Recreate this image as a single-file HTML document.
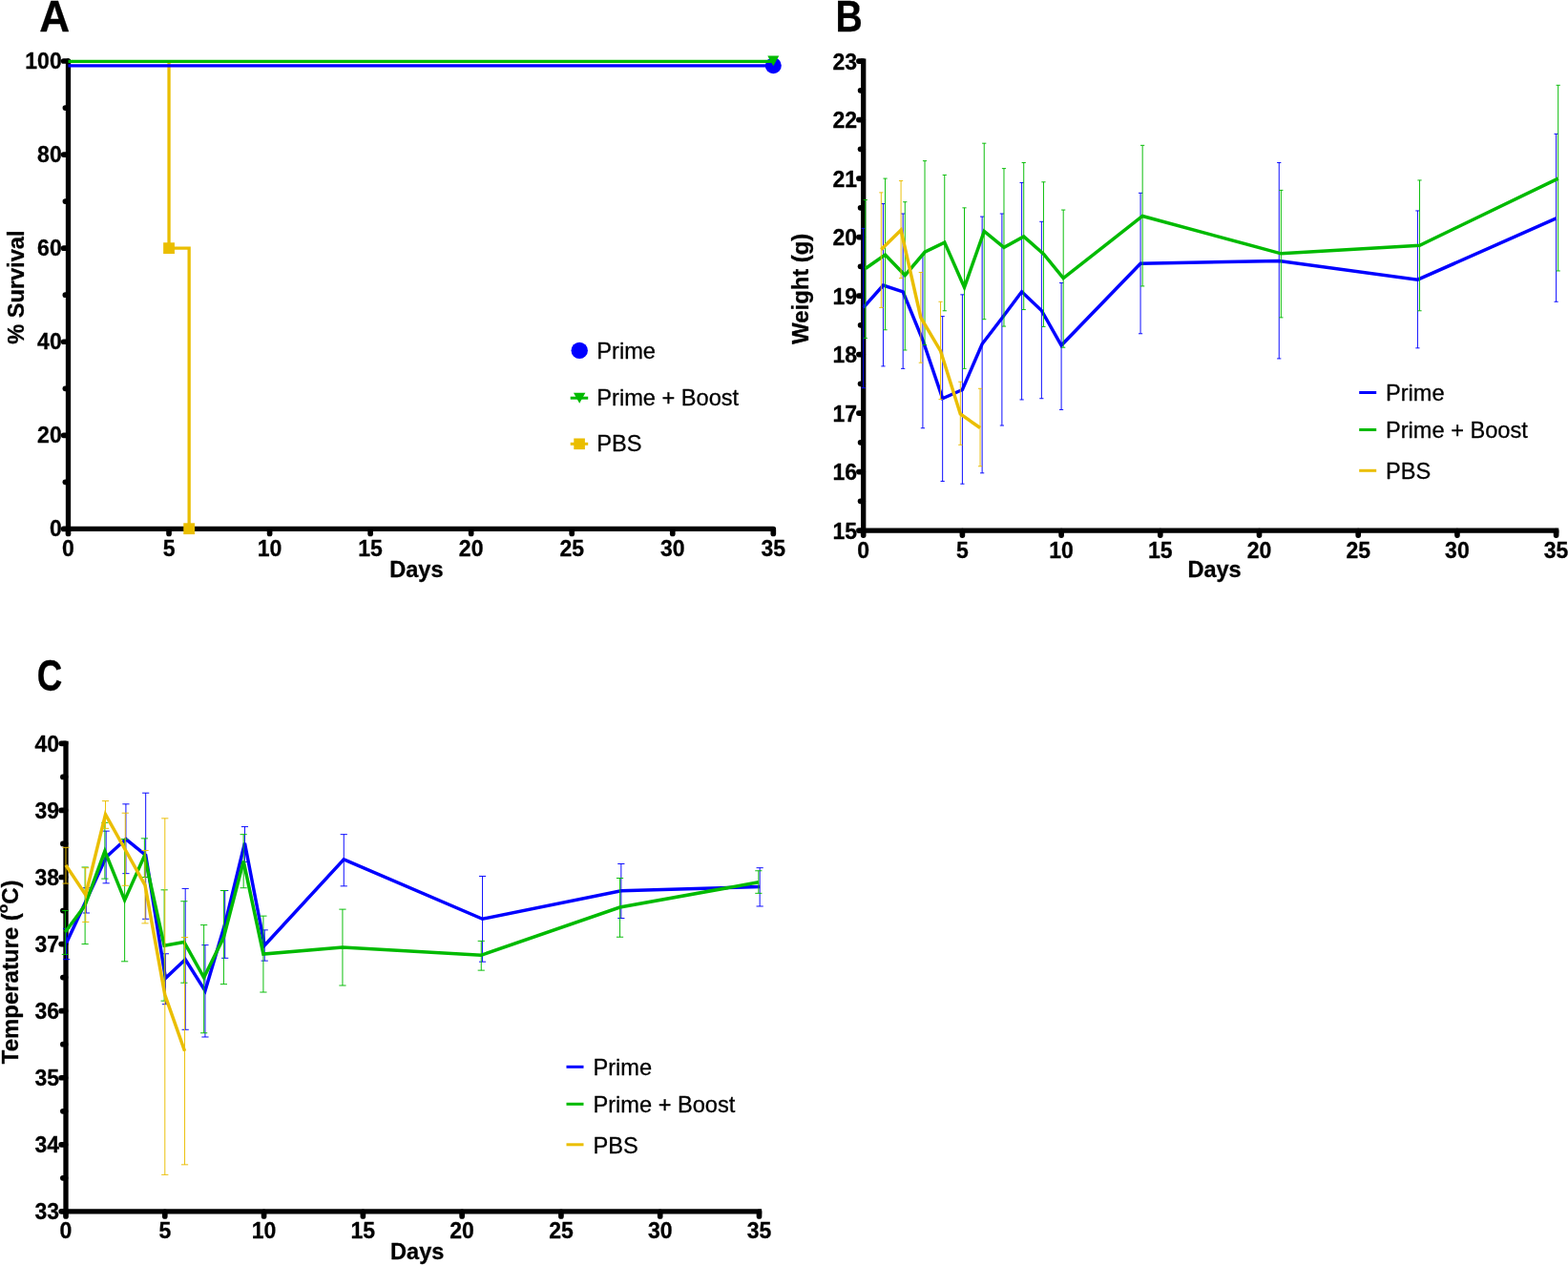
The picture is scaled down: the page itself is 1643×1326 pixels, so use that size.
<!DOCTYPE html>
<html lang="en"><head><meta charset="utf-8"><title>Survival, weight and temperature after challenge</title>
<style>html,body{margin:0;padding:0;background:#fff}body{width:1643px;height:1326px;overflow:hidden}svg{display:block}text{font-family:"Liberation Sans",Arial,Helvetica,sans-serif;fill:#000;stroke:#000;stroke-width:0.3px;stroke-linejoin:round}</style>
</head><body>
<svg width="1643" height="1326" viewBox="0 0 1643 1326" role="img" aria-label="Survival, weight and temperature charts">
<rect width="1643" height="1326" fill="#fff"/>
<text transform="translate(41.2 33.3) scale(0.943 1)" font-size="46.8" font-weight="bold" stroke="none">A</text>
<text transform="translate(875.6 33.2) scale(0.836 1)" font-size="46.8" font-weight="bold" stroke="none">B</text>
<text transform="translate(38.8 724.2) scale(0.78 1)" font-size="47.1" font-weight="bold" stroke="none">C</text>
<g stroke="#000" fill="none">
<path d="M71.5 64.0V554.4H810.3" stroke-width="5.3" stroke-linecap="round" stroke-linejoin="round"/>
<g stroke-width="5.7" stroke-linecap="round">
<path d="M71.0 554.4 h-4.3"/>
<path d="M71.0 456.32 h-4.3"/>
<path d="M71.0 358.24 h-4.3"/>
<path d="M71.0 260.16 h-4.3"/>
<path d="M71.0 162.08 h-4.3"/>
<path d="M71.0 64.0 h-4.3"/>
<path d="M71.0 505.36 h-2.6"/>
<path d="M71.0 407.28 h-2.6"/>
<path d="M71.0 309.2 h-2.6"/>
<path d="M71.0 211.12 h-2.6"/>
<path d="M71.0 113.04 h-2.6"/>
<path d="M71.5 554.9 v4.5"/>
<path d="M177.04 554.9 v4.5"/>
<path d="M282.59 554.9 v4.5"/>
<path d="M388.13 554.9 v4.5"/>
<path d="M493.67 554.9 v4.5"/>
<path d="M599.21 554.9 v4.5"/>
<path d="M704.76 554.9 v4.5"/>
<path d="M810.3 554.9 v4.5"/>
</g></g>
<text x="64.7" y="562.0" font-size="23" font-weight="bold" text-anchor="end">0</text>
<text x="64.7" y="463.92" font-size="23" font-weight="bold" text-anchor="end">20</text>
<text x="64.7" y="365.84" font-size="23" font-weight="bold" text-anchor="end">40</text>
<text x="64.7" y="267.76" font-size="23" font-weight="bold" text-anchor="end">60</text>
<text x="64.7" y="169.68" font-size="23" font-weight="bold" text-anchor="end">80</text>
<text x="64.7" y="71.6" font-size="23" font-weight="bold" text-anchor="end">100</text>
<text x="71.5" y="583" font-size="23" font-weight="bold" text-anchor="middle">0</text>
<text x="177.04" y="583" font-size="23" font-weight="bold" text-anchor="middle">5</text>
<text x="282.59" y="583" font-size="23" font-weight="bold" text-anchor="middle">10</text>
<text x="388.13" y="583" font-size="23" font-weight="bold" text-anchor="middle">15</text>
<text x="493.67" y="583" font-size="23" font-weight="bold" text-anchor="middle">20</text>
<text x="599.21" y="583" font-size="23" font-weight="bold" text-anchor="middle">25</text>
<text x="704.76" y="583" font-size="23" font-weight="bold" text-anchor="middle">30</text>
<text x="810.3" y="583" font-size="23" font-weight="bold" text-anchor="middle">35</text>
<text transform="translate(436.4 605.0) scale(1.023 1)" font-size="23" font-weight="bold" text-anchor="middle">Days</text>
<text transform="translate(24.7 301.2) rotate(-90) scale(1.026 1)" font-size="23" font-weight="bold" text-anchor="middle" stroke="none">% Survival</text>
<g fill="none" stroke-width="3.3" stroke="#eabe00"><path d="M177.04 66.0V260.16H198.15V554.4"/></g>
<rect x="171.14" y="254.26" width="11.8" height="11.8" fill="#eabe00"/>
<rect x="192.25" y="548.3" width="11.8" height="11.8" fill="#eabe00"/>
<path d="M71.5 68.8H810.3" stroke="#0000ff" stroke-width="3.2" fill="none"/>
<circle cx="810.3" cy="68.7" r="8.5" fill="#0000ff"/>
<path d="M71.5 64.4H810.3" stroke="#00ba00" stroke-width="3.2" fill="none"/>
<path d="M804.3 58.5h12l-6 10.7z" fill="#00ba00"/>
<circle cx="607.2" cy="367.4" r="8.7" fill="#0000ff"/>
<path d="M597.7 417.2h18.5" stroke="#00ba00" stroke-width="3" fill="none"/><path d="M601 411.8h12.4l-6.2 11z" fill="#00ba00"/>
<path d="M597.7 465.3h18.5" stroke="#eabe00" stroke-width="3" fill="none"/><rect x="601.3" y="459.5" width="11.6" height="11.6" fill="#eabe00"/>
<text x="625.3" y="375.9" font-size="23.6" font-weight="normal" text-anchor="start">Prime</text>
<text x="625.3" y="425.1" font-size="23.6" font-weight="normal" text-anchor="start">Prime + Boost</text>
<text x="625.3" y="473.3" font-size="23.6" font-weight="normal" text-anchor="start">PBS</text>
<g stroke="#000" fill="none">
<path d="M904.7 64.1V556.1H1630.6" stroke-width="5.3" stroke-linecap="square" stroke-linejoin="round"/>
<g stroke-width="5.7" stroke-linecap="round">
<path d="M904.2 556.1 h-4.3"/>
<path d="M904.2 494.6 h-4.3"/>
<path d="M904.2 433.1 h-4.3"/>
<path d="M904.2 371.6 h-4.3"/>
<path d="M904.2 310.1 h-4.3"/>
<path d="M904.2 248.6 h-4.3"/>
<path d="M904.2 187.1 h-4.3"/>
<path d="M904.2 125.6 h-4.3"/>
<path d="M904.2 64.1 h-4.3"/>
<path d="M904.2 525.35 h-2.6"/>
<path d="M904.2 463.85 h-2.6"/>
<path d="M904.2 402.35 h-2.6"/>
<path d="M904.2 340.85 h-2.6"/>
<path d="M904.2 279.35 h-2.6"/>
<path d="M904.2 217.85 h-2.6"/>
<path d="M904.2 156.35 h-2.6"/>
<path d="M904.2 94.85 h-2.6"/>
<path d="M904.7 556.6 v4.5"/>
<path d="M1008.4 556.6 v4.5"/>
<path d="M1112.1 556.6 v4.5"/>
<path d="M1215.8 556.6 v4.5"/>
<path d="M1319.5 556.6 v4.5"/>
<path d="M1423.2 556.6 v4.5"/>
<path d="M1526.9 556.6 v4.5"/>
<path d="M1630.6 556.6 v4.5"/>
</g></g>
<text x="898.1" y="564.8" font-size="23" font-weight="bold" text-anchor="end">15</text>
<text x="898.1" y="503.3" font-size="23" font-weight="bold" text-anchor="end">16</text>
<text x="898.1" y="441.8" font-size="23" font-weight="bold" text-anchor="end">17</text>
<text x="898.1" y="380.3" font-size="23" font-weight="bold" text-anchor="end">18</text>
<text x="898.1" y="318.8" font-size="23" font-weight="bold" text-anchor="end">19</text>
<text x="898.1" y="257.3" font-size="23" font-weight="bold" text-anchor="end">20</text>
<text x="898.1" y="195.8" font-size="23" font-weight="bold" text-anchor="end">21</text>
<text x="898.1" y="134.3" font-size="23" font-weight="bold" text-anchor="end">22</text>
<text x="898.1" y="72.8" font-size="23" font-weight="bold" text-anchor="end">23</text>
<text x="904.7" y="584.5" font-size="23" font-weight="bold" text-anchor="middle">0</text>
<text x="1008.4" y="584.5" font-size="23" font-weight="bold" text-anchor="middle">5</text>
<text x="1112.1" y="584.5" font-size="23" font-weight="bold" text-anchor="middle">10</text>
<text x="1215.8" y="584.5" font-size="23" font-weight="bold" text-anchor="middle">15</text>
<text x="1319.5" y="584.5" font-size="23" font-weight="bold" text-anchor="middle">20</text>
<text x="1423.2" y="584.5" font-size="23" font-weight="bold" text-anchor="middle">25</text>
<text x="1526.9" y="584.5" font-size="23" font-weight="bold" text-anchor="middle">30</text>
<text x="1630.6" y="584.5" font-size="23" font-weight="bold" text-anchor="middle">35</text>
<text transform="translate(1272.6 605.3) scale(1.023 1)" font-size="23" font-weight="bold" text-anchor="middle">Days</text>
<text transform="translate(847 302.7) rotate(-90) scale(1.036 1)" font-size="23" font-weight="bold" text-anchor="middle" stroke="none">Weight (g)</text>
<g stroke="#0000ff" fill="none">
<path d="M904.7 239.38V406.66M902.6 239.38h4.2M902.6 406.66h4.2M925.44 213.55V383.9M923.34 213.55h4.2M923.34 383.9h4.2M946.18 224.0V386.36M944.08 224.0h4.2M944.08 386.36h4.2M966.92 267.05V448.78M964.82 267.05h4.2M964.82 448.78h4.2M987.66 331.63V504.44M985.56 331.63h4.2M985.56 504.44h4.2M1008.4 308.87V507.21M1006.3 308.87h4.2M1006.3 507.21h4.2M1029.14 227.07V495.83M1027.04 227.07h4.2M1027.04 495.83h4.2M1049.88 224.0V446.02M1047.78 224.0h4.2M1047.78 446.02h4.2M1070.62 191.41V418.95M1068.52 191.41h4.2M1068.52 418.95h4.2M1091.36 232.3V417.73M1089.26 232.3h4.2M1089.26 417.73h4.2M1112.1 296.57V429.41M1110.0 296.57h4.2M1110.0 429.41h4.2M1195.06 202.29V349.77M1192.96 202.29h4.2M1192.96 349.77h4.2M1340.24 170.5V375.91M1338.14 170.5h4.2M1338.14 375.91h4.2M1485.42 220.93V364.84M1483.32 220.93h4.2M1483.32 364.84h4.2M1630.6 140.36V316.25M1628.5 140.36h4.2M1628.5 316.25h4.2" stroke-width="1.0" stroke-opacity="0.95"/>
<path d="M904.7 322.4 L925.44 299.03 L946.18 305.8 L966.92 356.53 L987.66 417.73 L1008.4 408.5 L1029.14 360.53 L1049.88 333.47 L1070.62 305.8 L1091.36 325.48 L1112.1 362.07 L1195.06 276.27 L1340.24 273.51 L1485.42 293.19 L1630.6 228.92" stroke-width="3.5" stroke-linejoin="miter" stroke-linecap="butt"/>
</g>
<g stroke="#00ba00" fill="none">
<path d="M906.8 209.49V354.38M904.7 209.49h4.2M904.7 354.38h4.2M927.54 187.1V345.77M925.44 187.1h4.2M925.44 345.77h4.2M948.28 211.7V366.99M946.18 211.7h4.2M946.18 366.99h4.2M969.02 168.65V361.45M966.92 168.65h4.2M966.92 361.45h4.2M989.76 183.41V325.78M987.66 183.41h4.2M987.66 325.78h4.2M1010.5 217.85V386.36M1008.4 217.85h4.2M1008.4 386.36h4.2M1031.24 150.2V334.7M1029.14 150.2h4.2M1029.14 334.7h4.2M1051.98 176.64V342.08M1049.88 176.64h4.2M1049.88 342.08h4.2M1072.72 170.5V324.55M1070.62 170.5h4.2M1070.62 324.55h4.2M1093.46 190.79V342.39M1091.36 190.79h4.2M1091.36 342.39h4.2M1114.2 220.06V364.22M1112.1 220.06h4.2M1112.1 364.22h4.2M1197.16 152.35V299.95M1195.06 152.35h4.2M1195.06 299.95h4.2M1342.34 199.4V332.86M1340.24 199.4h4.2M1340.24 332.86h4.2M1487.52 188.95V325.78M1485.42 188.95h4.2M1485.42 325.78h4.2M1632.7 89.32V283.96M1630.6 89.32h4.2M1630.6 283.96h4.2" stroke-width="1.0" stroke-opacity="0.95"/>
<path d="M906.8 281.5 L927.54 267.05 L948.28 288.57 L969.02 264.28 L989.76 254.13 L1010.5 301.18 L1031.24 242.45 L1051.98 259.36 L1072.72 247.98 L1093.46 266.13 L1114.2 291.65 L1197.16 226.46 L1342.34 265.82 L1487.52 257.21 L1632.7 187.1" stroke-width="3.5" stroke-linejoin="miter" stroke-linecap="butt"/>
</g>
<g stroke="#eabe00" fill="none">
<path d="M923.34 201.86V322.4M921.24 201.86h4.2M921.24 322.4h4.2M944.08 189.56V291.65M941.98 189.56h4.2M941.98 291.65h4.2M964.82 285.5V380.21M962.72 285.5h4.2M962.72 380.21h4.2M985.56 316.25V418.65M983.46 316.25h4.2M983.46 418.65h4.2M1006.3 400.2V466.31M1004.2 400.2h4.2M1004.2 466.31h4.2M1027.04 407.27V488.76M1024.94 407.27h4.2M1024.94 488.76h4.2" stroke-width="1.0" stroke-opacity="0.95"/>
<path d="M923.34 261.52 L944.08 241.22 L964.82 332.86 L985.56 367.91 L1006.3 434.02 L1027.04 448.48" stroke-width="3.5" stroke-linejoin="miter" stroke-linecap="butt"/>
</g>
<path d="M1424.2 411.5H1442.2" stroke="#0000ff" stroke-width="3" fill="none"/>
<text x="1452.0" y="420" font-size="23.6" font-weight="normal" text-anchor="start">Prime</text>
<path d="M1424.2 450.5H1442.2" stroke="#00ba00" stroke-width="3" fill="none"/>
<text x="1452.0" y="459.2" font-size="23.6" font-weight="normal" text-anchor="start">Prime + Boost</text>
<path d="M1424.2 493.3H1442.2" stroke="#eabe00" stroke-width="3" fill="none"/>
<text x="1452.0" y="501.8" font-size="23.6" font-weight="normal" text-anchor="start">PBS</text>
<g stroke="#000" fill="none">
<path d="M69.0 779.35V1269.9H795.5" stroke-width="5.3" stroke-linecap="square" stroke-linejoin="round"/>
<g stroke-width="5.7" stroke-linecap="round">
<path d="M68.5 1269.9 h-4.3"/>
<path d="M68.5 1199.82 h-4.3"/>
<path d="M68.5 1129.74 h-4.3"/>
<path d="M68.5 1059.66 h-4.3"/>
<path d="M68.5 989.59 h-4.3"/>
<path d="M68.5 919.51 h-4.3"/>
<path d="M68.5 849.43 h-4.3"/>
<path d="M68.5 779.35 h-4.3"/>
<path d="M68.5 1234.86 h-2.6"/>
<path d="M68.5 1164.78 h-2.6"/>
<path d="M68.5 1094.7 h-2.6"/>
<path d="M68.5 1024.62 h-2.6"/>
<path d="M68.5 954.55 h-2.6"/>
<path d="M68.5 884.47 h-2.6"/>
<path d="M68.5 814.39 h-2.6"/>
<path d="M69.0 1270.4 v4.5"/>
<path d="M172.79 1270.4 v4.5"/>
<path d="M276.57 1270.4 v4.5"/>
<path d="M380.36 1270.4 v4.5"/>
<path d="M484.14 1270.4 v4.5"/>
<path d="M587.93 1270.4 v4.5"/>
<path d="M691.71 1270.4 v4.5"/>
<path d="M795.5 1270.4 v4.5"/>
</g></g>
<text x="62.0" y="1278.3" font-size="23" font-weight="bold" text-anchor="end">33</text>
<text x="62.0" y="1208.22" font-size="23" font-weight="bold" text-anchor="end">34</text>
<text x="62.0" y="1138.14" font-size="23" font-weight="bold" text-anchor="end">35</text>
<text x="62.0" y="1068.06" font-size="23" font-weight="bold" text-anchor="end">36</text>
<text x="62.0" y="997.99" font-size="23" font-weight="bold" text-anchor="end">37</text>
<text x="62.0" y="927.91" font-size="23" font-weight="bold" text-anchor="end">38</text>
<text x="62.0" y="857.83" font-size="23" font-weight="bold" text-anchor="end">39</text>
<text x="62.0" y="787.75" font-size="23" font-weight="bold" text-anchor="end">40</text>
<text x="69.0" y="1298.2" font-size="23" font-weight="bold" text-anchor="middle">0</text>
<text x="172.79" y="1298.2" font-size="23" font-weight="bold" text-anchor="middle">5</text>
<text x="276.57" y="1298.2" font-size="23" font-weight="bold" text-anchor="middle">10</text>
<text x="380.36" y="1298.2" font-size="23" font-weight="bold" text-anchor="middle">15</text>
<text x="484.14" y="1298.2" font-size="23" font-weight="bold" text-anchor="middle">20</text>
<text x="587.93" y="1298.2" font-size="23" font-weight="bold" text-anchor="middle">25</text>
<text x="691.71" y="1298.2" font-size="23" font-weight="bold" text-anchor="middle">30</text>
<text x="795.5" y="1298.2" font-size="23" font-weight="bold" text-anchor="middle">35</text>
<text transform="translate(437.2 1320.1) scale(1.023 1)" font-size="23" font-weight="bold" text-anchor="middle">Days</text>
<text transform="translate(19.0 1018.8) rotate(-90) scale(1.042 1)" font-size="23" font-weight="bold" text-anchor="middle" stroke="none">Temperature (<tspan font-size="15" dy="-11">o</tspan><tspan dy="11">C)</tspan></text>
<g stroke="#0000ff" fill="none">
<path d="M69.65 973.47V1005.7M66.05 973.47h7.2M66.05 1005.7h7.2M90.41 930.72V957.0M86.81 930.72h7.2M86.81 957.0h7.2M111.16 871.15V925.81M107.56 871.15h7.2M107.56 925.81h7.2M131.92 842.84V915.65M128.32 842.84h7.2M128.32 915.65h7.2M152.68 831.21V963.31M149.08 831.21h7.2M149.08 963.31h7.2M173.44 999.75V1052.66M169.84 999.75h7.2M169.84 1052.66h7.2M194.19 931.42V1079.29M190.59 931.42h7.2M190.59 1079.29h7.2M214.95 990.64V1086.99M211.35 990.64h7.2M211.35 1086.99h7.2M235.71 933.52V1004.3M232.11 933.52h7.2M232.11 1004.3h7.2M256.46 866.6V903.39M252.86 866.6h7.2M252.86 903.39h7.2M277.22 974.87V1007.11M273.62 974.87h7.2M273.62 1007.11h7.2M360.25 874.66V928.83M356.65 874.66h7.2M356.65 928.83h7.2M505.55 918.46V1008.16M501.95 918.46h7.2M501.95 1008.16h7.2M650.85 905.49V962.54M647.25 905.49h7.2M647.25 962.54h7.2M796.15 909.7V949.99M792.55 909.7h7.2M792.55 949.99h7.2" stroke-width="1.0" stroke-opacity="0.95"/>
<path d="M69.65 988.18 L90.41 943.68 L111.16 898.48 L131.92 879.56 L152.68 896.38 L173.44 1025.33 L194.19 1005.7 L214.95 1038.64 L235.71 968.56 L256.46 883.77 L277.22 990.99 L360.25 900.87 L505.55 963.24 L650.85 933.8 L796.15 929.46" stroke-width="3.5" stroke-linejoin="miter" stroke-linecap="butt"/>
</g>
<g stroke="#00ba00" fill="none">
<path d="M68.35 954.55V1000.45M64.75 954.55h7.2M64.75 1000.45h7.2M89.11 909.0V989.59M85.51 909.0h7.2M85.51 989.59h7.2M109.86 862.32V921.12M106.26 862.32h7.2M106.26 921.12h7.2M130.62 879.56V1007.81M127.02 879.56h7.2M127.02 1007.81h7.2M151.38 878.86V919.51M147.78 878.86h7.2M147.78 919.51h7.2M172.14 932.82V1049.15M168.54 932.82h7.2M168.54 1049.15h7.2M192.89 944.74V1030.23M189.29 944.74h7.2M189.29 1030.23h7.2M213.65 969.61V1082.79M210.05 969.61h7.2M210.05 1082.79h7.2M234.41 933.52V1031.63M230.81 933.52h7.2M230.81 1031.63h7.2M255.16 874.66V930.72M251.56 874.66h7.2M251.56 930.72h7.2M275.92 960.15V1040.04M272.32 960.15h7.2M272.32 1040.04h7.2M358.95 953.14V1033.03M355.35 953.14h7.2M355.35 1033.03h7.2M504.25 986.36V1017.13M500.65 986.36h7.2M500.65 1017.13h7.2M649.55 920.49V982.23M645.95 920.49h7.2M645.95 982.23h7.2M794.85 912.78V936.33M791.25 912.78h7.2M791.25 936.33h7.2" stroke-width="1.0" stroke-opacity="0.95"/>
<path d="M68.35 976.97 L89.11 948.94 L109.86 892.18 L130.62 943.61 L151.38 897.08 L172.14 991.34 L192.89 987.48 L213.65 1024.62 L234.41 982.58 L255.16 902.69 L275.92 1000.1 L358.95 993.09 L504.25 1001.22 L649.55 951.04 L794.85 924.83" stroke-width="3.5" stroke-linejoin="miter" stroke-linecap="butt"/>
</g>
<g stroke="#eabe00" fill="none">
<path d="M69.0 888.32V926.09M65.4 888.32h7.2M65.4 926.09h7.2M89.76 909.7V966.46M86.16 909.7h7.2M86.16 966.46h7.2M110.51 839.62V868.35M106.91 839.62h7.2M106.91 868.35h7.2M131.27 852.23V928.27M127.67 852.23h7.2M127.67 928.27h7.2M152.03 891.48V967.86M148.43 891.48h7.2M148.43 967.86h7.2M172.79 857.84V1231.36M169.19 857.84h7.2M169.19 1231.36h7.2M193.54 982.58V1220.84M189.94 982.58h7.2M189.94 1220.84h7.2" stroke-width="1.0" stroke-opacity="0.95"/>
<path d="M69.0 906.89 L89.76 938.08 L110.51 853.63 L131.27 890.77 L152.03 927.92 L172.79 1042.85 L193.54 1101.71" stroke-width="3.5" stroke-linejoin="miter" stroke-linecap="butt"/>
</g>
<path d="M593.5 1118.3H611.5" stroke="#0000ff" stroke-width="3" fill="none"/>
<text x="621.5" y="1127" font-size="23.6" font-weight="normal" text-anchor="start">Prime</text>
<path d="M593.5 1157.3H611.5" stroke="#00ba00" stroke-width="3" fill="none"/>
<text x="621.5" y="1166" font-size="23.6" font-weight="normal" text-anchor="start">Prime + Boost</text>
<path d="M593.5 1199.8H611.5" stroke="#eabe00" stroke-width="3" fill="none"/>
<text x="621.5" y="1208.5" font-size="23.6" font-weight="normal" text-anchor="start">PBS</text>
</svg>
</body></html>
